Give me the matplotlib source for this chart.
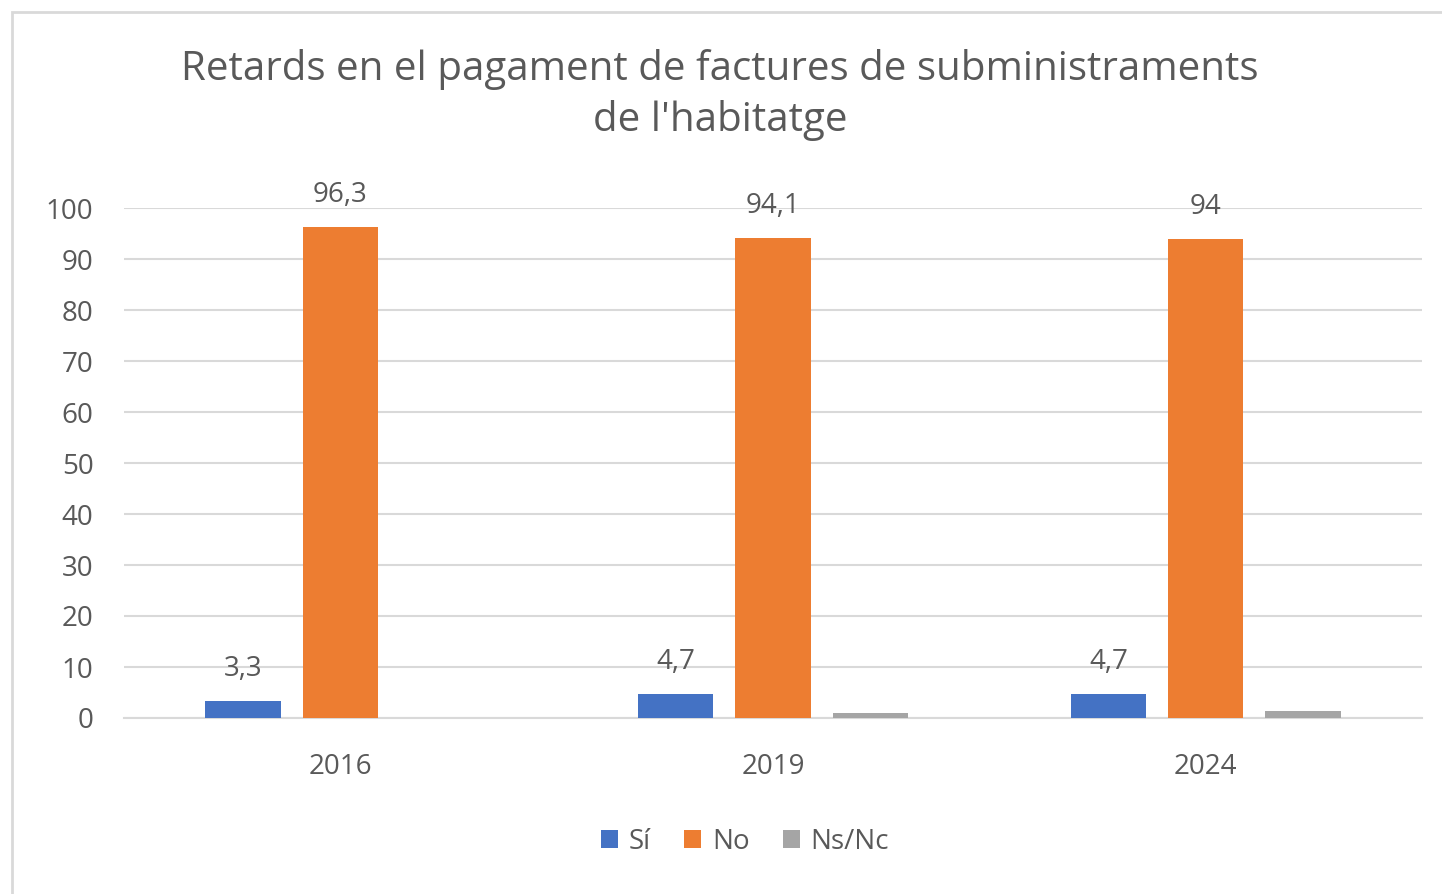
import matplotlib.pyplot as plt
import numpy as np
from matplotlib.patches import Rectangle

plt.rcParams['font.family'] = ['Open Sans', 'DejaVu Sans']

anys = ['2016', '2019', '2024']
si = [3.3, 4.7, 4.7]
no = [96.3, 94.1, 94]
nsnc = [0, 0.9, 1.3]

gris_text = '#595959'

fig = plt.figure(figsize=(14.42, 8.94), dpi=100)
# marc del grafic
fig.patches.append(Rectangle((12/1442, -0.1), 1.2, (894 - 12)/894 + 0.1,
                             transform=fig.transFigure, fill=False,
                             edgecolor='#d9d9d9', linewidth=2))

ax = fig.add_axes([124/1442, 1 - 718/894, (1422 - 124)/1442, (718 - 208)/894])

x = np.arange(len(anys))
w = 0.174
d = 0.225
b1 = ax.bar(x - d, si, w, color='#4472c4', zorder=3)
b2 = ax.bar(x, no, w, color='#ed7d31', zorder=3)
b3 = ax.bar(x + d, nsnc, w, color='#a5a5a5', zorder=3)

for bars, vals in ((b1, si), (b2, no)):
    for r, v in zip(bars, vals):
        txt = ('%g' % v).replace('.', ',')
        ax.annotate(txt, (r.get_x() + r.get_width()/2, v), xytext=(0, 18),
                    textcoords='offset points', ha='center', va='baseline',
                    fontsize=20, color=gris_text)

ax.set_xlim(-0.5, 2.5)
ax.set_ylim(0, 100)
ax.set_yticks(range(0, 101, 10))
ax.set_xticks(x)
ax.set_xticklabels(anys)
ax.yaxis.grid(True, color='#d9d9d9', linewidth=1.5, zorder=0)
for s in ('top', 'right', 'left'):
    ax.spines[s].set_visible(False)
ax.spines['bottom'].set_color('#d9d9d9')
ax.spines['bottom'].set_linewidth(1.5)
ax.tick_params(axis='both', length=0, labelsize=20, colors=gris_text)
ax.tick_params(axis='y', pad=22)
ax.tick_params(axis='x', pad=25)

fig.text(720/1442, 1 - 95/894, "Retards en el pagament de factures de subministraments\nde l'habitatge",
         ha='center', va='center', fontsize=29, color=gris_text, linespacing=1.35)

fig.legend([b1, b2, b3], ['Sí', 'No', 'Ns/Nc'], loc='center', bbox_to_anchor=(745/1442, 1 - 842/894),
           ncol=3, frameon=False, fontsize=20, labelcolor=gris_text, handlelength=0.6,
           handleheight=0.6, handletextpad=0.4, columnspacing=1.2)

fig.savefig('out.png', dpi=100)
